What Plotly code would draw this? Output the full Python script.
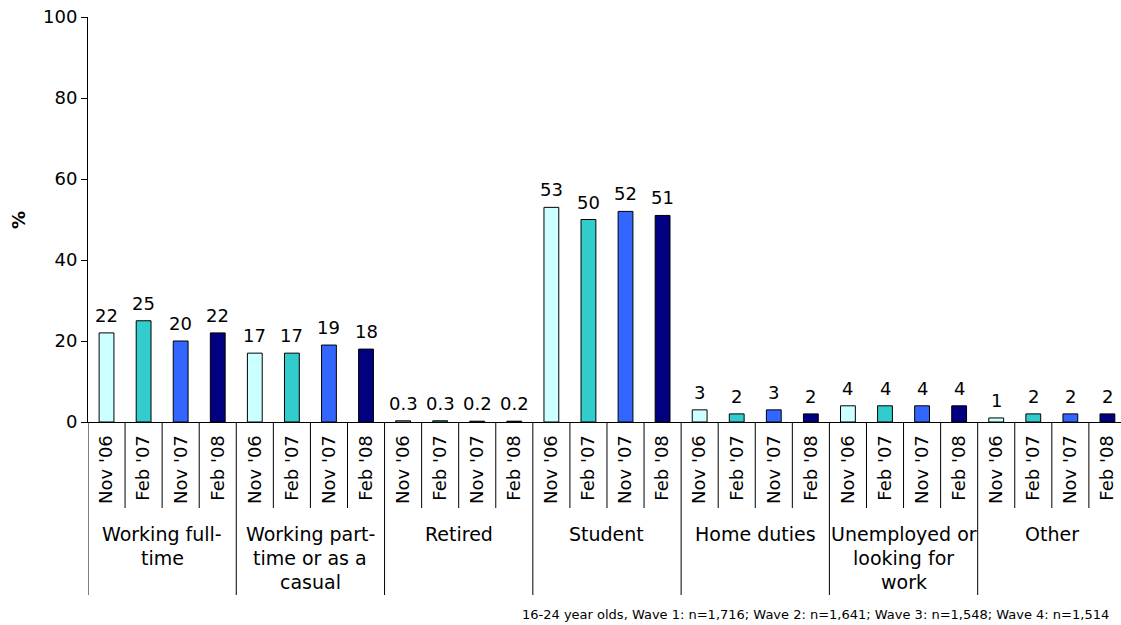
import plotly.graph_objects as go

# Survey waves and activity groups
waves = ["Nov '06", "Feb '07", "Nov '07", "Feb '08"]
groups = [
    ["Working full-", "time"],
    ["Working part-", "time or as a", "casual"],
    ["Retired"],
    ["Student"],
    ["Home duties"],
    ["Unemployed or", "looking for", "work"],
    ["Other"],
]
wave_colors = ["#CCFFFF", "#33CCCC", "#3366FF", "#000080"]

# Percentages per group, one entry per wave
working_full_time = [22, 25, 20, 22]
working_part_time = [17, 17, 19, 18]
retired = [0.3, 0.3, 0.2, 0.2]
student = [53, 50, 52, 51]
home_duties = [3, 2, 3, 2]
unemployed = [4, 4, 4, 4]
other = [1, 2, 2, 2]
series_by_group = [working_full_time, working_part_time, retired, student,
                   home_duties, unemployed, other]

y_ticks = [0, 20, 40, 60, 80, 100]
footnote = "16-24 year olds, Wave 1: n=1,716; Wave 2: n=1,641; Wave 3: n=1,548; Wave 4: n=1,514"

FONT = "DejaVu Sans, Verdana, sans-serif"
FS = 18
W, H = 1121, 625
ML, MT, MB, MR = 88, 17, 203, 0
plot_h = H - MT - MB
n_groups = len(groups)
n_w = len(waves)
n_cat = n_groups * n_w
unit_px = 37.07
x_max = -0.5 + (W - ML - MR) / unit_px


def py(pixel_y):
    """Convert a pixel row to paper y coordinate."""
    return (H - MB - pixel_y) / plot_h


fig = go.Figure()

annotations = []
tick_vals, tick_text = [], []
for w, wave in enumerate(waves):
    xs, ys, labels = [], [], []
    for g, vals in enumerate(series_by_group):
        xi = g * n_w + w
        xs.append(xi)
        ys.append(vals[w])
        labels.append(f"{vals[w]:g}")
    fig.add_trace(go.Bar(
        x=xs, y=ys, width=0.4, name=wave,
        marker=dict(color=wave_colors[w], line=dict(color="#000000", width=1)),
        showlegend=False, hoverinfo="skip",
    ))
    for xi, yi, lab in zip(xs, ys, labels):
        annotations.append(dict(
            x=xi, y=yi, xref="x", yref="y", text=lab, showarrow=False,
            yanchor="bottom", yshift=5,
            font=dict(family=FONT, size=FS, color="#000000"),
        ))

for g in range(n_groups):
    for w in range(n_w):
        tick_vals.append(g * n_w + w)
        tick_text.append(waves[w])

# Group names below the wave labels, one annotation per line
for g, lines in enumerate(groups):
    cx = g * n_w + (n_w - 1) / 2
    for k, line in enumerate(lines):
        annotations.append(dict(
            x=cx, y=py(534 + 23.8 * k), xref="x", yref="paper", text=line,
            showarrow=False, yanchor="middle", xanchor="center",
            font=dict(family=FONT, size=19, color="#000000"),
        ))

# Divider lines between categories and between groups
shapes = []
for b in range(n_cat + 1):
    xb = b - 0.5
    if b % n_w == 0:
        y_end = py(595)
    else:
        y_end = py(508)
    shapes.append(dict(
        type="line", xref="x", yref="paper", x0=xb, x1=xb, y0=0, y1=y_end,
        line=dict(color="#000000", width=1),
    ))

# Axis title and footnote
annotations.append(dict(
    x=(18 - ML) / (W - ML - MR), y=py(220), xref="paper", yref="paper",
    text="<b>%</b>", textangle=-90, showarrow=False,
    xanchor="center", yanchor="middle",
    font=dict(family=FONT, size=FS, color="#000000"),
))
annotations.append(dict(
    x=(1111 - ML) / (W - ML - MR), y=py(614), xref="paper", yref="paper",
    text=footnote, showarrow=False, xanchor="right", yanchor="middle",
    font=dict(family=FONT, size=13, color="#000000"),
))

fig.update_layout(
    width=W, height=H,
    margin=dict(l=ML, r=MR, t=MT, b=MB, pad=0),
    paper_bgcolor="#FFFFFF", plot_bgcolor="#FFFFFF",
    barmode="overlay",
    font=dict(family=FONT, size=FS, color="#000000"),
    xaxis=dict(
        range=[-0.5, x_max], tickmode="array", tickvals=tick_vals,
        ticktext=tick_text, tickangle=-90, ticks="", showgrid=False,
        zeroline=False, showline=True, linecolor="#000000", linewidth=1,
        tickfont=dict(family=FONT, size=FS, color="#000000"),
        ticklabelstandoff=5,
        fixedrange=True,
    ),
    yaxis=dict(
        range=[0, 100], tickmode="array", tickvals=y_ticks,
        ticks="outside", ticklen=6, tickcolor="#000000", showgrid=False,
        zeroline=False, showline=True, linecolor="#000000", linewidth=1,
        tickfont=dict(family=FONT, size=FS, color="#000000"),
        fixedrange=True,
    ),
    annotations=annotations,
    shapes=shapes,
)

fig.write_html("out.html")
